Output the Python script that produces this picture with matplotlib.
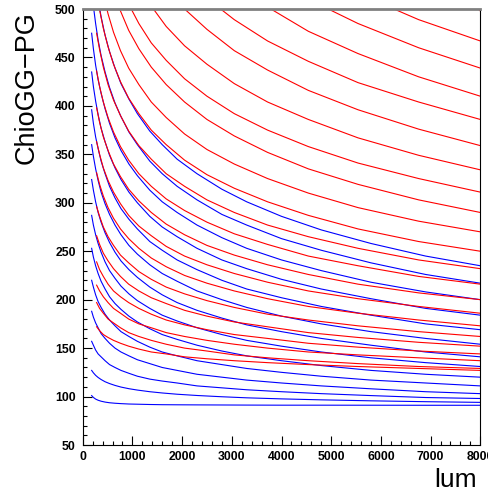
import matplotlib
matplotlib.use("Agg")
import matplotlib.pyplot as plt
import numpy as np

# lum positions of the sampled points (a curve uses the last len(y) of them)
blue_x = [180, 215, 260, 310, 370, 450, 540, 650, 770, 930, 1100, 1350, 1600, 1900,
          2300, 2800, 3300, 4000, 4800, 5800, 6900, 8000]
red_x = [280, 340, 415, 510, 620, 760, 925, 1130, 1380, 1680, 2050, 2500, 3050,
         3720, 4540, 5540, 6760, 8000]

# ChioGG-PG
blue_y = [
    [101, 99.1, 97.4, 96.2, 95.2, 94.3, 93.6, 93.1, 92.7, 92.3, 92.1, 91.8, 91.6, 91.5, 91.4, 91.3, 91.2, 91.1, 91.1, 91.05, 91.0, 91.0],
    [127, 124.5, 121.9, 119.7, 117.6, 115.3, 113.4, 111.5, 109.8, 108.1, 106.7, 105.0, 103.7, 102.4, 101.1, 99.8, 98.7, 97.6, 96.6, 95.6, 94.7, 94.0],
    [157, 153, 148, 144, 141, 137, 133, 130, 127, 124, 121, 118, 116, 114, 111, 109, 107, 105, 103, 101, 99, 98],
    [188, 182, 176, 171, 165, 160, 155, 150, 146, 142, 138, 134, 130, 127, 123, 120, 117, 114, 111, 108, 105, 103],
    [220, 213, 205, 198, 192, 185, 179, 173, 167, 162, 157, 151, 146, 142, 137, 133, 129, 125, 121, 117, 114, 111],
    [253, 244, 235, 227, 219, 211, 203, 196, 190, 183, 177, 170, 164, 159, 153, 147, 142, 137, 132, 127, 123, 120],
    [287, 277, 267, 258, 249, 239, 230, 222, 214, 206, 199, 191, 184, 178, 171, 164, 158, 152, 146, 140, 135, 131],
    [324, 313, 301, 290, 280, 269, 259, 249, 240, 231, 223, 213, 205, 197, 189, 181, 174, 167, 160, 153, 146, 141],
    [360, 348, 335, 323, 311, 299, 288, 277, 267, 256, 247, 236, 227, 219, 209, 200, 192, 183, 175, 167, 160, 154],
    [396, 382, 368, 356, 343, 330, 317, 305, 294, 283, 273, 260, 251, 241, 231, 220, 211, 202, 193, 184, 175, 169],
    [435, 420, 405, 391, 377, 363, 349, 336, 324, 311, 300, 286, 275, 265, 253, 241, 232, 221, 211, 201, 191, 184],
    [475, 459, 442, 427, 413, 397, 382, 367, 354, 340, 328, 313, 301, 290, 277, 264, 253, 241, 230, 218, 208, 200],
    [503, 485, 468, 452, 435, 419, 403, 389, 373, 360, 343, 330, 317, 303, 288, 277, 263, 251, 238, 226, 217],
    [510, 492, 473, 456, 439, 423, 407, 392, 374, 360, 345, 330, 314, 301, 286, 272, 258, 245, 235],
]

# ChioGG-PG
red_y = [
    [172, 168, 164, 161, 158, 155, 152, 149, 146, 144, 141, 139, 137, 135, 133, 131, 129, 127],
    [197, 191, 186, 180, 176, 171, 166, 162, 158, 154, 150, 147, 143, 140, 137, 134, 131, 129],
    [215, 209, 203, 197, 191, 186, 180, 175, 171, 166, 162, 158, 154, 150, 146, 143, 140, 137],
    [239, 231, 224, 216, 209, 203, 197, 191, 185, 179, 174, 169, 164, 160, 155, 151, 147, 144],
    [266, 257, 248, 240, 232, 224, 216, 209, 202, 196, 189, 183, 177, 172, 166, 161, 156, 152],
    [296, 286, 275, 265, 256, 246, 238, 229, 221, 213, 206, 199, 192, 185, 179, 173, 167, 162],
    [331, 319, 307, 295, 284, 273, 263, 253, 243, 234, 225, 217, 209, 201, 193, 186, 179, 173],
    [363, 350, 336, 323, 311, 299, 287, 276, 266, 255, 245, 236, 227, 218, 209, 201, 193, 186],
    [398, 383, 368, 354, 340, 327, 314, 302, 290, 278, 267, 256, 246, 236, 226, 216, 207, 200],
    [436, 420, 404, 388, 373, 358, 344, 330, 317, 304, 292, 280, 268, 257, 245, 235, 224, 216],
    [475, 458, 440, 422, 406, 390, 374, 359, 345, 330, 317, 303, 290, 277, 265, 253, 241, 232],
    [519, 499, 480, 461, 443, 425, 408, 392, 375, 360, 344, 329, 315, 301, 287, 273, 260, 250],
    [515, 495, 476, 457, 439, 422, 404, 388, 371, 355, 340, 325, 310, 295, 281, 270],
    [519, 498, 478, 459, 440, 422, 404, 386, 369, 352, 335, 319, 303, 290],
    [505, 485, 465, 447, 428, 410, 392, 375, 358, 341, 325, 311],
    [503, 482, 462, 443, 423, 404, 386, 367, 349, 334],
    [500, 479, 457, 437, 416, 396, 376, 359],
    [511, 489, 467, 446, 424, 404, 386],
    [502, 477, 454, 430, 410],
    [510, 485, 460, 439],
    [516, 489, 467],
    [557, 498],
]

fig = plt.figure(figsize=(4.89, 4.97), dpi=100)
ax = fig.add_axes([82.7 / 489, 1 - 445 / 497, 397.6 / 489, 436 / 497])

for y in blue_y:
    ax.plot(blue_x[-len(y):], y, color='blue', lw=0.8)
for y in red_y:
    ax.plot(red_x[-len(y):], y, color='red', lw=0.8)

ax.set_xlim(0, 8000)
ax.set_ylim(50, 500)
ax.set_xticks(np.arange(0, 8001, 1000))
ax.set_xticks(np.arange(0, 8001, 200), minor=True)
ax.set_yticks(np.arange(50, 501, 50))
ax.set_yticks(np.arange(50, 501, 10), minor=True)
ax.tick_params(which='both', direction='in', top=False, right=False, width=0.8)
ax.tick_params(which='major', length=6.5)
ax.tick_params(which='minor', length=3.2)
ax.tick_params(axis='y', pad=5)
ax.tick_params(axis='x', pad=4)
for lab in ax.get_xticklabels() + ax.get_yticklabels():
    lab.set_fontfamily('Liberation Sans')
    lab.set_fontweight('bold')
    lab.set_fontsize(8.8)
for side in ['left', 'bottom', 'right']:
    ax.spines[side].set_linewidth(0.8)
ax.spines['top'].set_color('#808080')
ax.spines['top'].set_linewidth(2)

fig.text(27 / 489, 1 - 11 / 497, 'ChioGG\u2212PG', rotation=90, ha='center', va='top',
         fontsize=19.5, family='Liberation Sans')
fig.text(477 / 489, 1 - 492 / 497, 'lum', ha='right', va='bottom',
         fontsize=19, family='Liberation Sans')

fig.savefig('out.png', dpi=100)
